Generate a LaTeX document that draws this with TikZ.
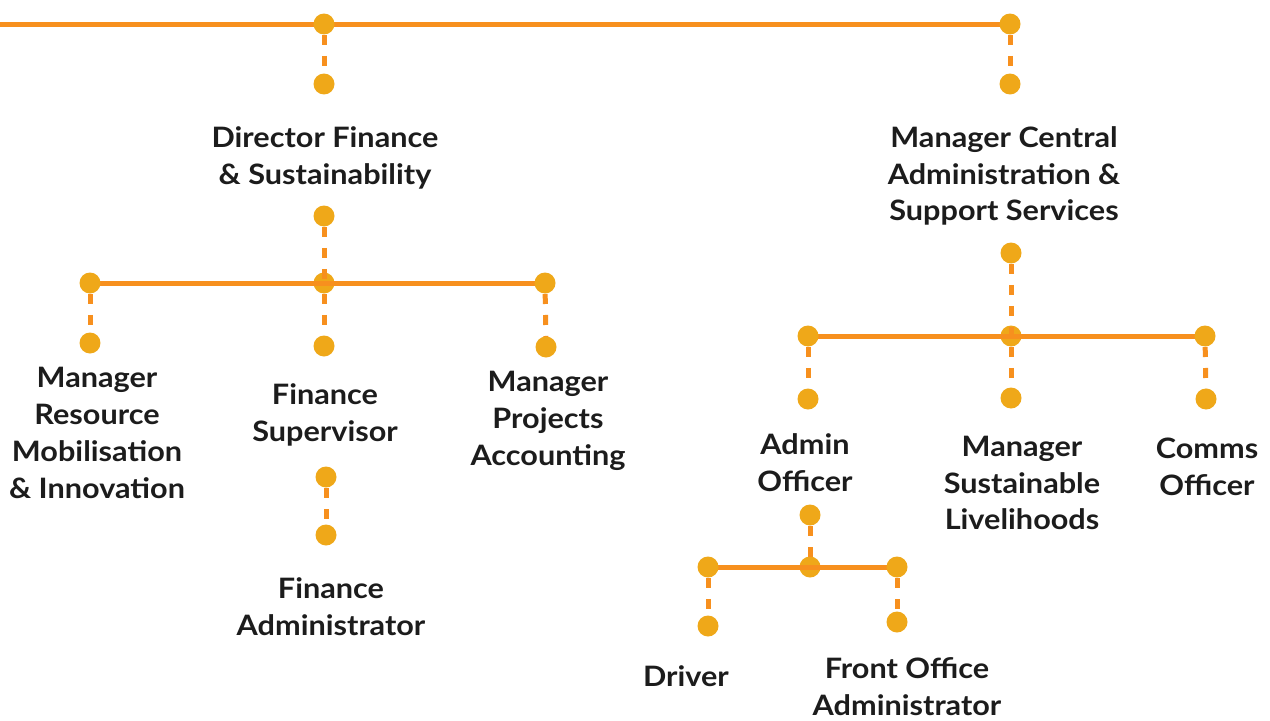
\documentclass[tikz,border=0pt]{standalone}
\usepackage{fontspec}
\setmainfont{Lato}[FakeStretch=1.09]

\definecolor{linkorange}{HTML}{F7901E}
\definecolor{dotgold}{HTML}{EFA819}
\definecolor{inkgrey}{HTML}{1C1C1C}

\tikzset{
    tie/.style={linkorange, line width=0.1cm},
    drop/.style={tie, dash pattern=on 0.2cm off 0.22cm, dash phase=0.2cm},
    role/.style={text=inkgrey, align=center, font=\bfseries\fontsize{16}{21}\selectfont},
}

\begin{document}
\begin{tikzpicture}[x=0.02cm, y=-0.02cm]
    \useasboundingbox (0,0) rectangle (1270,720);

    % top bar
    \coordinate (edge) at (0,24);
    \coordinate (t1) at (324,24);  \coordinate (t2) at (1010,24);
    \coordinate (f0) at (324,84);  \coordinate (c0) at (1010,84);

    % finance branch
    \coordinate (f1) at (324,216); \coordinate (fj) at (324,283);
    \coordinate (fl) at (90,283);  \coordinate (fr) at (545,283);
    \coordinate (fa) at (90,343);  \coordinate (fb) at (324,346); \coordinate (fc) at (546,347);
    \coordinate (s1) at (326,477); \coordinate (s2) at (326,535);

    % central administration branch
    \coordinate (c1) at (1011,253); \coordinate (cj) at (1011,336);
    \coordinate (cl) at (808,336);  \coordinate (cr) at (1205,336);
    \coordinate (ca) at (808,399);  \coordinate (cb) at (1011,398); \coordinate (cc) at (1206,399);
    \coordinate (a1) at (810,515);  \coordinate (aj) at (810,567);
    \coordinate (al) at (708,567);  \coordinate (ar) at (897,567);
    \coordinate (aa) at (708,626);  \coordinate (ab) at (897,622);

    % junction dots sit under the lines
    \foreach \p in {fj, cj, aj} \fill[dotgold] (\p) circle (0.21cm);

    \draw[tie] (edge) -- (t2);
    \draw[tie] (fl) -- (fr);
    \draw[tie] (cl) -- (cr);
    \draw[tie] (al) -- (ar);

    \draw[drop] (t1) -- (f0);  \draw[drop] (t2) -- (c0);
    \draw[drop] (f1) -- (fj);  \draw[drop] (fj) -- (fb);
    \draw[drop] (fl) -- (fa);  \draw[drop] (fr) -- (fc);
    \draw[drop] (s1) -- (s2);
    \draw[drop] (c1) -- (cj);  \draw[drop] (cj) -- (cb);
    \draw[drop] (cl) -- (ca);  \draw[drop] (cr) -- (cc);
    \draw[drop] (a1) -- (aj);
    \draw[drop] (al) -- (aa);  \draw[drop] (ar) -- (ab);

    \foreach \p in {t1, t2, f0, c0, f1, fl, fr, fa, fb, fc, s1, s2,
                    c1, cl, cr, ca, cb, cc, a1, al, ar, aa, ab}
        \fill[dotgold] (\p) circle (0.21cm);

    % roles
    \node[role] (dirfin) at (325,158) {Director Finance\\\& Sustainability};
    \node[role] (resmob) at (97,433) {Manager\\Resource\\Mobilisation\\\& Innovation};
    \node[role] (finsup) at (325,415) {Finance\\Supervisor};
    \node[role] (projacc) at (548,421) {Manager\\Projects\\Accounting};
    \node[role] (finadm) at (331,607) {Finance\\Administrator};
    \node[role] (mgrcen) at (1004,176) {Manager Central\\Administration \&\\Support Services};
    \node[role] (admoff) at (805,463) {Admin\\Officer};
    \node[role] (sustliv) at (1022,483) {Manager\\Sustainable\\Livelihoods};
    \node[role] (comms) at (1207,467) {Comms\\Officer};
    \node[role] (driver) at (686,676) {Driver};
    \node[role] (frontoff) at (907,687) {Front Office\\Administrator};
\end{tikzpicture}
\end{document}
